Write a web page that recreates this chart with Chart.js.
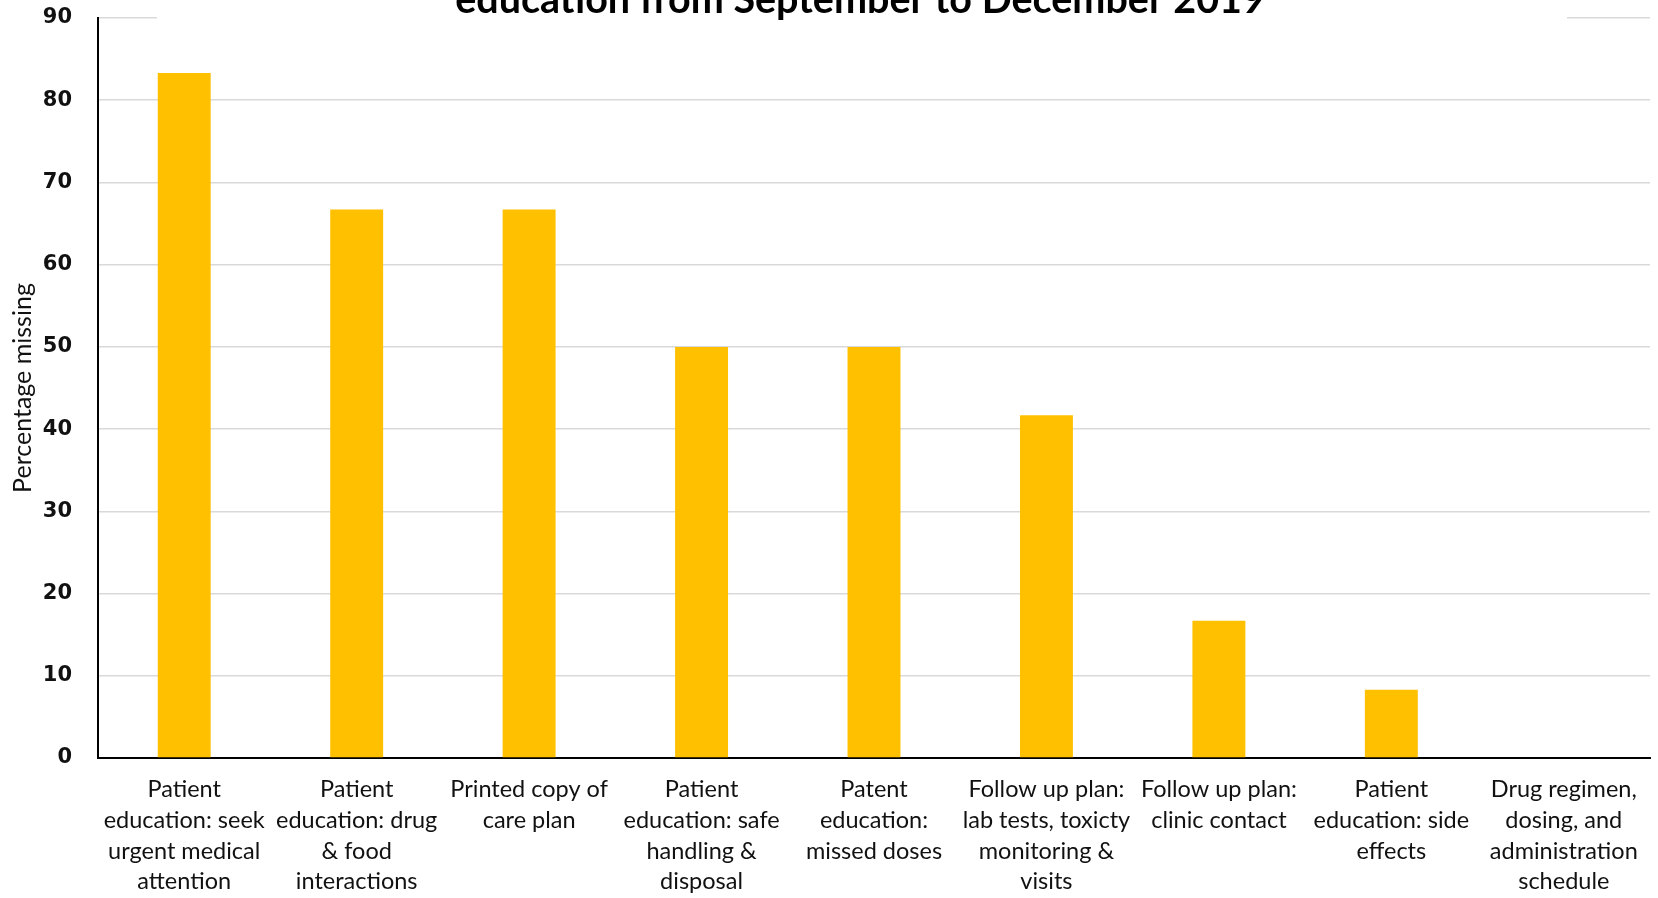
<!DOCTYPE html>
<html>
<head>
<meta charset="utf-8">
<script src="https://cdn.jsdelivr.net/npm/chart.js@4"></script>
<style>
  html, body { margin: 0; padding: 0; background: #fff; }
  #wrap { width: 1658px; height: 898px; }
</style>
</head>
<body>
<div id="wrap"><canvas id="chart" width="1658" height="898"></canvas></div>
<script>
// categories (multi-line labels) and percent missing per element
const categories = [
  ["Patient", "education: seek", "urgent medical", "attention"],
  ["Patient", "education: drug", "& food", "interactions"],
  ["Printed copy of", "care plan"],
  ["Patient", "education: safe", "handling &", "disposal"],
  ["Patent", "education:", "missed doses"],
  ["Follow up plan:", "lab tests, toxicty", "monitoring &", "visits"],
  ["Follow up plan:", "clinic contact"],
  ["Patient", "education: side", "effects"],
  ["Drug regimen,", "dosing, and", "administration", "schedule"]
];
const percentMissing = [83.3, 66.7, 66.7, 50, 50, 41.7, 16.7, 8.3, 0];
const yTicks = [0, 10, 20, 30, 40, 50, 60, 70, 80, 90];
const titleLine = "education from September to December 2019";

// title sits over the top gridline, partly cut off by the canvas edge
const clippedTitle = {
  id: 'clippedTitle',
  afterDraw(chart) {
    const ctx = chart.ctx;
    ctx.save();
    ctx.fillStyle = '#fff';
    ctx.fillRect(157, 0, 1410, 28);
    ctx.fillStyle = '#000';
    ctx.font = 'bold 39.5px Lato';
    ctx.textAlign = 'center';
    ctx.textBaseline = 'alphabetic';
    ctx.fillText(titleLine, 860, 13);
    ctx.restore();
  }
};

const ctx = document.getElementById("chart").getContext("2d");
new Chart(ctx, {
  type: "bar",
  data: {
    labels: categories,
    datasets: [{
      label: "Percentage missing",
      data: percentMissing,
      backgroundColor: "#FFC000",
      borderWidth: 0,
      barPercentage: 0.307,
      categoryPercentage: 1
    }]
  },
  options: {
    responsive: false,
    animation: false,
    layout: { padding: { top: 18, right: 8, left: 0, bottom: 0 } },
    plugins: {
      legend: { display: false },
      tooltip: { enabled: false }
    },
    scales: {
      x: {
        grid: { display: false, drawTicks: false },
        border: { color: "#000", width: 2 },
        ticks: {
          color: "#111",
          font: { family: "Lato", size: 23.5, lineHeight: 1.31 },
          padding: 16,
          maxRotation: 0,
          autoSkip: false
        },
        afterFit(scale) { scale.height = 140; }
      },
      y: {
        min: 0,
        max: 90,
        afterBuildTicks(scale) { scale.ticks = yTicks.map(v => ({ value: v })); },
        grid: { color: "#d9d9d9", lineWidth: 1.5, drawTicks: false },
        border: { color: "#000", width: 2 },
        ticks: {
          color: "#111",
          font: { family: "DejaVu Sans", size: 21, weight: "bold" },
          padding: 26
        },
        title: {
          display: true,
          text: "Percentage missing",
          color: "#111",
          font: { family: "Lato", size: 25 },
          padding: { top: 8, bottom: 0 }
        },
        afterFit(scale) {
          scale.width = 98;
          // tick padding would otherwise push the plot down
          scale.paddingTop = 0;
          scale.paddingBottom = 0;
        }
      }
    }
  },
  plugins: [clippedTitle]
});
</script>
</body>
</html>
